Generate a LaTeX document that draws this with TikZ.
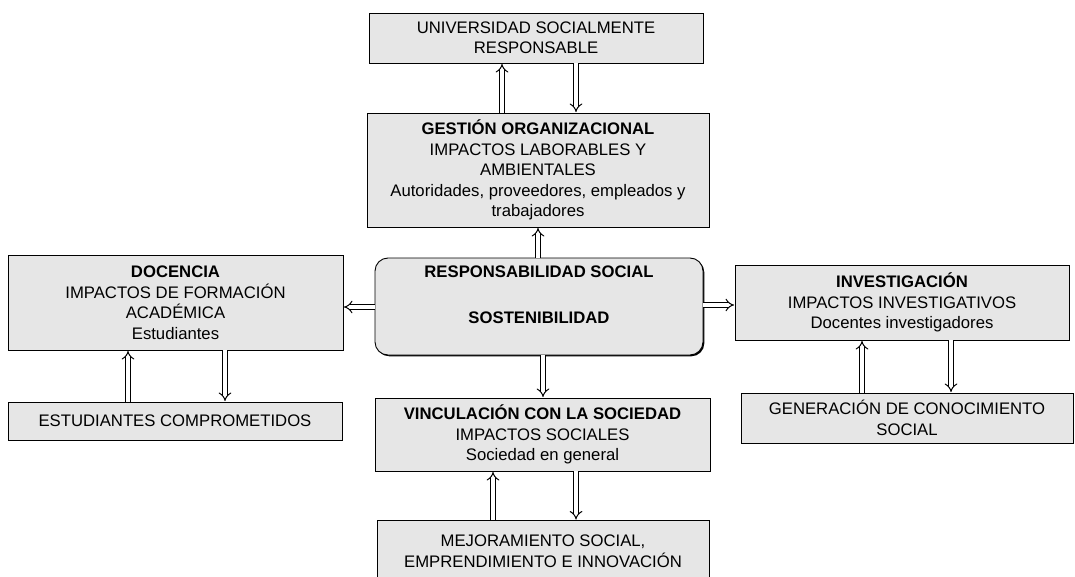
\documentclass[tikz,border=0pt]{standalone}
\usepackage{fontspec}
\setmainfont{Liberation Sans}
\usetikzlibrary{arrows.meta,shadows}
\definecolor{boxgray}{RGB}{230,230,230}
\begin{document}
\begin{tikzpicture}[x=1pt,y=-1pt,
  box/.style={draw=black, line width=0.9pt, fill=boxgray, align=center,
    inner sep=0pt, font=\fontsize{16.7}{20.5}\selectfont,
    drop shadow={shadow xshift=1.3pt, shadow yshift=-1.3pt, fill=black, opacity=1}},
  rbox/.style={box, rounded corners=13pt},
  txt/.style={align=center, inner sep=0pt, font=\fontsize{16.7}{20.5}\selectfont},
  dbl/.style={draw=black, double=white, double distance=3.4pt, line width=1pt,
    -{Implies}, shorten >=0.5pt}]
\useasboundingbox (0,0) rectangle (1075,577);
\fill[white] (0,0) rectangle (1075,577);

\node[box, minimum width=334pt, minimum height=50pt] (usr) at (536,38)
  {UNIVERSIDAD SOCIALMENTE\\RESPONSABLE};
\node[box, minimum width=342pt, minimum height=114pt] (go) at (538,170)
  {\textbf{GESTIÓN ORGANIZACIONAL}\\IMPACTOS LABORABLES Y\\AMBIENTALES\\Autoridades, proveedores, empleados y\\trabajadores};
\node[rbox, minimum width=328pt, minimum height=97pt] (rs) at (539,306.5) {};
\node[txt] (rst) at (539,295) {\textbf{RESPONSABILIDAD SOCIAL}\\[25pt]\textbf{SOSTENIBILIDAD}};
\node[box, minimum width=335pt, minimum height=95pt] (doc) at (175.5,302.5)
  {\textbf{DOCENCIA}\\IMPACTOS DE FORMACIÓN\\ACADÉMICA\\Estudiantes};
\node[box, minimum width=334pt, minimum height=38pt] (est) at (175,421)
  {ESTUDIANTES COMPROMETIDOS};
\node[box, minimum width=334pt, minimum height=75pt] (inv) at (902,302.5)
  {\textbf{INVESTIGACIÓN}\\IMPACTOS INVESTIGATIVOS\\Docentes investigadores};
\node[box, minimum width=332pt, minimum height=50pt] (gcs) at (907,418)
  {GENERACIÓN DE CONOCIMIENTO\\SOCIAL};
\node[box, minimum width=335pt, minimum height=73pt] (vcs) at (542.5,434.5)
  {\textbf{VINCULACIÓN CON LA SOCIEDAD}\\IMPACTOS SOCIALES\\Sociedad en general};
\begin{scope}
\clip (0,0) rectangle (1075,577);
\node[box, minimum width=332pt, minimum height=80pt, anchor=north] (mej) at (543,520) {};
\end{scope}
\node[txt] (mejt) at (543,551) {MEJORAMIENTO SOCIAL,\\EMPRENDIMIENTO E INNOVACIÓN};

% arrows
\draw[dbl] ([xshift=-36pt]go.north) -- ([xshift=-34pt]usr.south);
\draw[dbl] ([xshift=40pt]usr.south) -- ([xshift=38pt]go.north);
\draw[dbl] ([xshift=-1pt]rs.north) -- ([xshift=0pt]go.south);
\draw[dbl] (rs.west |- 0,307) -- (doc.east |- 0,307);
\draw[dbl] (rs.east |- 0,305) -- (inv.west |- 0,305);
\draw[dbl] ([xshift=4pt]rs.south) -- ([xshift=0.5pt]vcs.north);
\draw[dbl] ([xshift=-47pt]est.north) -- ([xshift=-47.5pt]doc.south);
\draw[dbl] ([xshift=49.5pt]doc.south) -- ([xshift=50pt]est.north);
\draw[dbl] ([xshift=-50pt]mej.north) -- ([xshift=-49.5pt]vcs.south);
\draw[dbl] ([xshift=33.5pt]vcs.south) -- ([xshift=33pt]mej.north);
\draw[dbl] ([xshift=-45pt]gcs.north) -- ([xshift=-40pt]inv.south);
\draw[dbl] ([xshift=49pt]inv.south) -- ([xshift=44pt]gcs.north);
\end{tikzpicture}
\end{document}
